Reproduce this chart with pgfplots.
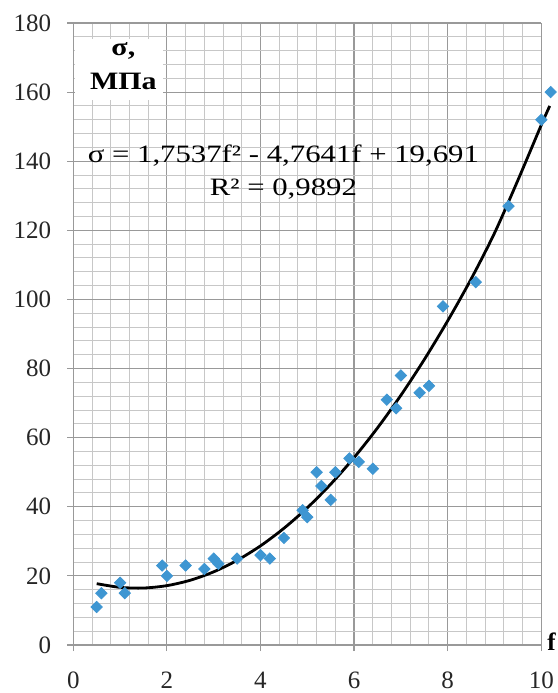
\documentclass[border=0pt]{standalone}
\usepackage{pgfplots}
\pgfplotsset{compat=1.18}
\usepackage{fontspec}
\setmainfont{Liberation Serif}

\definecolor{ptblue}{RGB}{62,150,210}

\begin{document}
\begin{tikzpicture}
  \begin{axis}[
    scale only axis,
    width=234pt, height=311pt,
    xmin=0, xmax=10, ymin=0, ymax=180,
    xtick={0,2,...,10}, ytick={0,20,...,180},
    minor x tick num=4, minor y tick num=4,
    grid=both,
    major grid style={black!40, line width=0.6pt},
    minor grid style={black!22, line width=0.5pt},
    axis x line*=bottom, axis y line*=left,
    axis line style={black!40, line width=0.6pt},
    tick align=outside, major tick length=3pt, minor tick length=0pt,
    tick style={black!40, line width=0.6pt},
    ticklabel style={font=\fontsize{12.5}{15}\selectfont, text=black!85},
    xticklabel style={yshift=-7pt},
    yticklabel style={xshift=-4.5pt},
    /pgf/number format/assume math mode=true,
    clip=false,
  ]

    % label box in the upper left corner
    \fill[white] (axis cs:0.03,157.8) rectangle (axis cs:1.92,175.3);
    \node[align=center, xscale=1.2, transform shape,
      font=\fontsize{12.5}{17}\selectfont\bfseries]
      at (axis cs:1.07,167.5) {σ,\\МПа};

    % measured points
    \addplot[only marks, mark=square*, mark size=2pt,
      mark options={rotate=45, fill=ptblue, draw=ptblue}] coordinates {
      (0.5,11) (0.6,15) (1.0,18) (1.1,15)
      (1.9,23) (2.0,20) (2.4,23) (2.8,22) (3.0,25) (3.1,23.5)
      (3.5,25) (4.0,26) (4.2,25) (4.5,31) (4.9,39) (5.0,37)
      (5.2,50) (5.3,46) (5.5,42) (5.6,50) (5.9,54) (6.1,53) (6.4,51)
      (6.7,71) (6.9,68.5) (7.0,78) (7.4,73) (7.6,75)
      (7.9,98) (8.6,105) (9.3,127) (10.0,152) (10.2,160)
    };

    % polynomial trend line
    \addplot[black, line width=1.4pt, smooth] coordinates {
      (0.5,17.75) (1.0,16.68) (1.5,16.49) (2.0,17.18) (2.5,18.74)
      (3.0,21.18) (3.5,24.50) (4.0,28.69) (4.5,33.77) (5.0,39.71)
      (5.5,46.54) (6.0,54.24) (6.5,62.82) (7.0,72.27) (7.5,82.61)
      (8.0,93.82) (8.5,105.9) (9.0,119.2) (9.5,134.5) (10.0,150.5)
      (10.18,156)
    };

    \node[anchor=base, xscale=1.23, transform shape,
      font=\fontsize{12.5}{15}\selectfont]
      at (axis cs:4.49,139.5) {σ = 1,7537f² - 4,7641f + 19,691};
    \node[anchor=base, xscale=1.23, transform shape,
      font=\fontsize{12.5}{15}\selectfont]
      at (axis cs:4.49,130.2) {R² = 0,9892};

    \node[anchor=west, inner sep=0pt, font=\fontsize{12.5}{15}\selectfont\bfseries]
      at (axis cs:10.12,1) {f};
  \end{axis}
  \pgfresetboundingbox
  \useasboundingbox (-36.65pt,-24pt) rectangle (242pt,322.5pt);
\end{tikzpicture}
\end{document}
